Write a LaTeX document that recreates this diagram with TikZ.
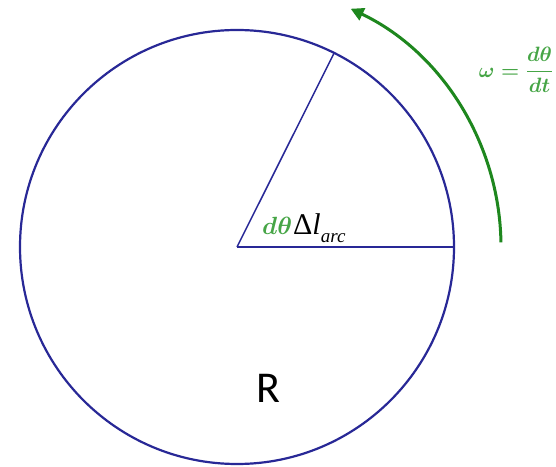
\documentclass[tikz,border=0pt]{standalone}
\usepackage{fontspec}
\usepackage{amsmath}
\newfontfamily\calib{Carlito}
\newfontfamily\tmsf{Liberation Serif}
\usetikzlibrary{arrows.meta,calc}
\definecolor{circblue}{RGB}{40,40,150}
\definecolor{arrgreen}{RGB}{30,135,30}
\definecolor{lblgreen}{RGB}{70,165,70}
\begin{document}
\begin{tikzpicture}[x=1pt,y=1pt,
  rim/.style={draw=circblue,line width=2.2pt},
  spoke/.style={draw=circblue,line width=1.5pt},
  spin/.style={draw=arrgreen,line width=3pt,-{Triangle[length=13pt,width=13pt]}},
  lbl/.style={inner sep=0pt}]
\useasboundingbox (0,0) rectangle (556,466);
\coordinate (c) at (237,219);
\coordinate (p) at ($(c)+(63.4:217pt)$);
\coordinate (q) at (454,219);
\draw[rim] (c) circle[radius=217pt];
\draw[spoke] (c) -- (p);
\draw[spoke] (c) -- (q);
\coordinate (a0) at ($(c)+(1:264pt)$);
\draw[spin] (a0) arc[start angle=1,end angle=64.5,radius=264pt];
\node[lbl,text=lblgreen,font=\fontsize{21}{24}\selectfont] (w) at (516,396) {$\boldsymbol{\omega=\dfrac{d\theta}{dt}}$};
\node[lbl,anchor=base west,text=lblgreen,font=\fontsize{28}{30}\selectfont] (dth) at (262,231) {$\boldsymbol{d\theta}$};
\node[lbl,anchor=base west,font=\tmsf\fontsize{30}{32}\selectfont] (dl) at (293,231) {Δ\textit{l}\raisebox{-8pt}{\fontsize{19}{20}\selectfont\textit{arc}}};
\node[lbl,font=\calib\fontsize{44}{48}\selectfont] (R) at (268,78) {R};
\end{tikzpicture}
\end{document}
